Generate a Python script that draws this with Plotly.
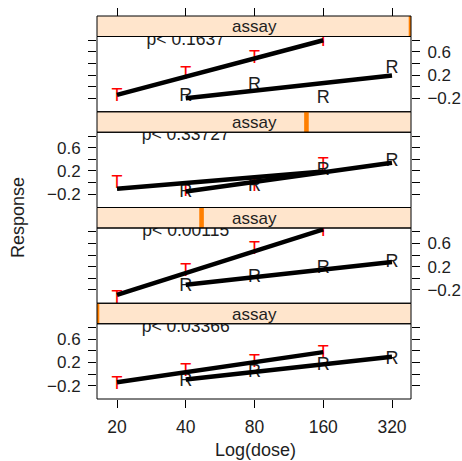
import plotly.graph_objects as go

# ---------------- data (panels listed top to bottom) ----------------
dose_T = [20, 40, 80, 160]
dose_R = [40, 80, 160, 320]
dose_ticks = [20, 40, 80, 160, 320]
dose_tick_labels = ["20", "40", "80", "160", "320"]

t_vals = [
    [-0.165, 0.216, 0.485, 0.78],
    [-0.01, -0.155, -0.068, 0.29],
    [-0.34, 0.124, 0.493, 0.805],
    [-0.174, 0.043, 0.20, 0.346],
]
r_vals = [
    [-0.175, 0.017, -0.21, 0.31],
    [-0.17, -0.06, 0.21, 0.36],
    [-0.148, 0.017, 0.164, 0.268],
    [-0.13, 0.034, 0.147, 0.25],
]
# fitted line values at the first / last dose of each preparation
t_fit = [
    [-0.14, 0.80],
    [-0.108, 0.19],
    [-0.287, 0.84],
    [-0.143, 0.377],
]
r_fit = [
    [-0.197, 0.195],
    [-0.155, 0.34],
    [-0.113, 0.28],
    [-0.096, 0.297],
]
p_labels = ["p< 0.1637", "p< 0.33727", "p< 0.00115", "p< 0.03366"]
strip_label = "assay"
level_frac = [1.0, 0.667, 0.333, 0.0]   # position of the level marker in each strip

y_tickvals = [-0.2, 0.0, 0.2, 0.4, 0.6, 0.8]
y_ticktext = ["\u22120.2", "", "0.2", "", "0.6", ""]
y_range = [-0.43, 0.865]
p_text_y = 0.80
p_text_x = 40

# ---------------- layout geometry (pixels) ----------------
W, H = 462, 461
LEFT, RIGHT = 97, 411
TOP = 16
STRIP_H = 20.5
BLOCK_H = 95.75
FONT = "Liberation Sans, Arial, Helvetica, sans-serif"
TXT = "#1e1e1e"


def fx(px):
    return px / W


def fy(py):
    return 1 - py / H


fig = go.Figure()
shapes = []
annotations = []
layout_axes = {}

for i in range(4):
    ya = "y" if i == 0 else f"y{i + 1}"
    yname = "yaxis" if i == 0 else f"yaxis{i + 1}"
    strip_top = TOP + i * BLOCK_H
    strip_bot = strip_top + STRIP_H
    panel_bot = strip_top + BLOCK_H

    # data letters
    fig.add_trace(go.Scatter(
        x=dose_T, y=t_vals[i], mode="text", text=["T"] * len(dose_T),
        textfont=dict(color="#ff0000", size=18, family=FONT),
        xaxis="x", yaxis=ya, cliponaxis=True, showlegend=False, hoverinfo="skip"))
    fig.add_trace(go.Scatter(
        x=dose_R, y=r_vals[i], mode="text", text=["R"] * len(dose_R),
        textfont=dict(color=TXT, size=18, family=FONT),
        xaxis="x", yaxis=ya, cliponaxis=True, showlegend=False, hoverinfo="skip"))
    # fitted lines
    fig.add_trace(go.Scatter(
        x=[dose_T[0], dose_T[-1]], y=t_fit[i], mode="lines",
        line=dict(color="black", width=4.5),
        xaxis="x", yaxis=ya, showlegend=False, hoverinfo="skip"))
    fig.add_trace(go.Scatter(
        x=[dose_R[0], dose_R[-1]], y=r_fit[i], mode="lines",
        line=dict(color="black", width=4.5),
        xaxis="x", yaxis=ya, showlegend=False, hoverinfo="skip"))
    # p-value text (clipped at the panel top)
    fig.add_trace(go.Scatter(
        x=[p_text_x], y=[p_text_y], mode="text", text=[p_labels[i]],
        textposition="middle center",
        textfont=dict(color=TXT, size=17.5, family=FONT),
        xaxis="x", yaxis=ya, cliponaxis=True, showlegend=False, hoverinfo="skip"))

    layout_axes[yname] = dict(
        domain=[fy(panel_bot), fy(strip_bot)],
        range=y_range,
        tickvals=y_tickvals, ticktext=y_ticktext,
        ticks="outside", ticklen=8, tickwidth=1, tickcolor="black",
        side="right" if i % 2 == 0 else "left",
        mirror="ticks", showline=False,
        showgrid=False, zeroline=False, anchor="x",
        ticklabelstandoff=4,
        tickfont=dict(size=17, family=FONT, color=TXT),
    )

    # strip
    shapes.append(dict(type="rect", xref="paper", yref="paper",
                       x0=fx(LEFT), x1=fx(RIGHT), y0=fy(strip_bot), y1=fy(strip_top),
                       fillcolor="#ffe5cc", line=dict(width=0), layer="below"))
    c = LEFT + level_frac[i] * (RIGHT - LEFT)
    shapes.append(dict(type="rect", xref="paper", yref="paper",
                       x0=fx(max(LEFT, c - 2.3)), x1=fx(min(RIGHT, c + 2.3)),
                       y0=fy(strip_bot), y1=fy(strip_top),
                       fillcolor="#ff7f00", line=dict(width=0), layer="above"))
    shapes.append(dict(type="rect", xref="paper", yref="paper",
                       x0=fx(LEFT), x1=fx(RIGHT), y0=fy(strip_bot), y1=fy(strip_top),
                       fillcolor="rgba(0,0,0,0)", line=dict(color="black", width=1), layer="above"))
    # panel box
    shapes.append(dict(type="rect", xref="paper", yref="paper",
                       x0=fx(LEFT), x1=fx(RIGHT), y0=fy(panel_bot), y1=fy(strip_bot),
                       fillcolor="rgba(0,0,0,0)", line=dict(color="black", width=1), layer="above"))
    annotations.append(dict(text=strip_label, xref="paper", yref="paper",
                            x=fx((LEFT + RIGHT) / 2), y=fy(strip_top + STRIP_H / 2 + 0.5),
                            showarrow=False, xanchor="center", yanchor="middle",
                            font=dict(size=17, family=FONT, color=TXT)))

annotations.append(dict(text="Response", xref="paper", yref="paper",
                        x=fx(18), y=fy(218), textangle=-90, showarrow=False,
                        xanchor="center", yanchor="middle",
                        font=dict(size=18, family=FONT, color=TXT)))
annotations.append(dict(text="Log(dose)", xref="paper", yref="paper",
                        x=fx(255), y=fy(450), showarrow=False,
                        xanchor="center", yanchor="middle",
                        font=dict(size=18, family=FONT, color=TXT)))

import math
x_range = [math.log10(20) - 20 / 228.4, math.log10(320) + 19 / 228.4]

# invisible trace so the top tick axis is drawn
fig.add_trace(go.Scatter(x=[dose_ticks[0]], y=[0], mode="markers",
                         marker=dict(opacity=0), xaxis="x2", yaxis="y",
                         showlegend=False, hoverinfo="skip"))

fig.update_layout(
    width=W, height=H,
    margin=dict(l=0, r=0, t=0, b=0),
    paper_bgcolor="white", plot_bgcolor="white",
    showlegend=False,
    xaxis=dict(domain=[fx(LEFT), fx(RIGHT)], type="log", range=x_range,
               tickvals=dose_ticks, ticktext=dose_tick_labels,
               ticks="outside", ticklen=8, tickwidth=1, tickcolor="black",
               showgrid=False, zeroline=False, showline=False, anchor="y4",
               ticklabelstandoff=4,
               tickfont=dict(size=17.5, family=FONT, color=TXT)),
    xaxis2=dict(domain=[fx(LEFT), fx(RIGHT)], type="log", range=x_range,
                tickvals=dose_ticks, overlaying="x", side="top",
                anchor="free", position=fy(TOP),
                ticks="outside", ticklen=8, tickwidth=1, tickcolor="black",
                showticklabels=False, showgrid=False, zeroline=False, showline=False),
    shapes=shapes,
    annotations=annotations,
    **layout_axes,
)

fig.write_html("out.html")
